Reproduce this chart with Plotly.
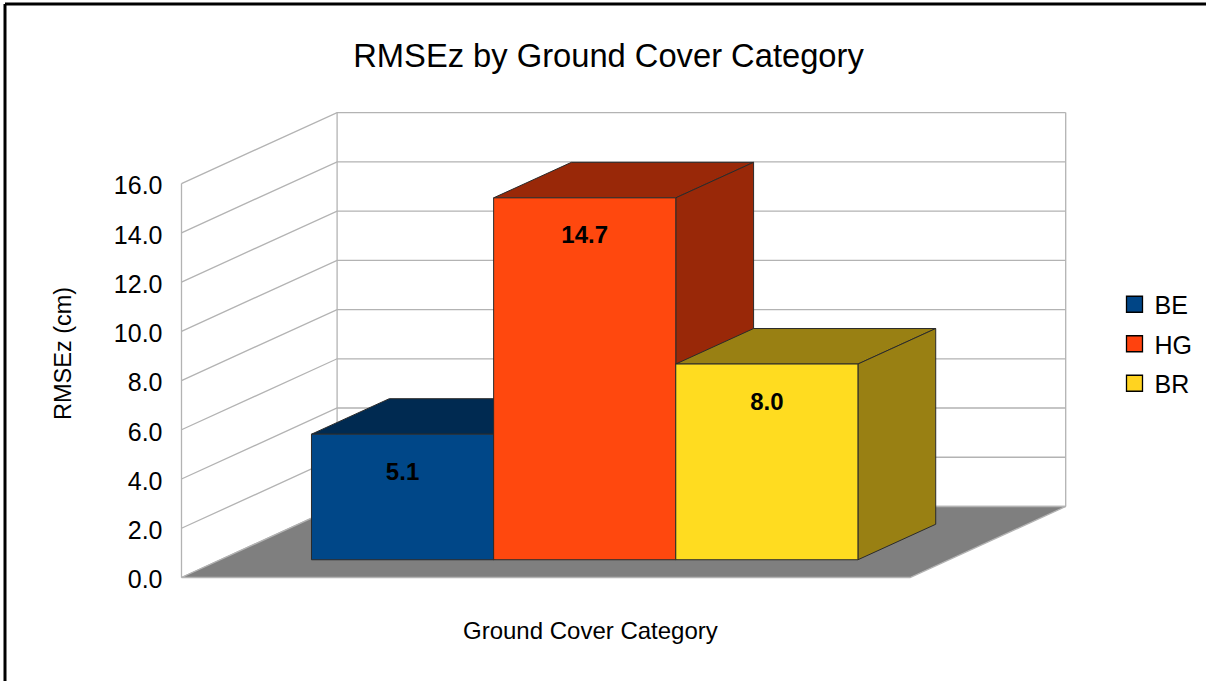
import plotly.graph_objects as go

# Data
categories = ["BE", "HG", "BR"]
values = [5.1, 14.7, 7.95]
data_labels = ["5.1", "14.7", "8.0"]
y_ticks = [0, 2, 4, 6, 8, 10, 12, 14, 16]
y_tick_labels = ["0.0", "2.0", "4.0", "6.0", "8.0", "10.0", "12.0", "14.0", "16.0"]

# Colours
front_colors = ["#004788", "#ff480e", "#ffdc20"]
legend_colors = ["#004586", "#ff420e", "#ffd320"]
dark_colors = ["#002a51", "#992808", "#998013"]
GRID = "#b3b3b3"
EDGE = "#2a2a2a"

# Canvas / projection
W, H = 1206, 681
X0_PX, Y0_PX = 181.5, 577.5      # pixel of the origin on the front plane
X_SCALE = 728.6                  # px for the whole category span
Y_SCALE = 24.62                  # px per RMSEz unit
DEPTH_DX = 155.6 / X_SCALE       # oblique shift for full depth (x units)
DEPTH_DY = 71.0 / Y_SCALE        # oblique shift for full depth (y units)
BAR_W = 0.25
BAR_START = 0.125
DEPTH_FRONT, DEPTH_BACK = 0.25, 0.75


def proj(x, v, d):
    return x + d * DEPTH_DX, v + d * DEPTH_DY


def poly(points):
    xs, ys = zip(*[proj(*p) for p in points])
    return list(xs) + [xs[0]], list(ys) + [ys[0]]


fig = go.Figure()


def add_line(xs, ys, color=GRID, width=1.3):
    fig.add_trace(go.Scatter(x=xs, y=ys, mode="lines", showlegend=False, hoverinfo="skip",
                             line=dict(color=color, width=width)))


def add_face(points, fill, line=EDGE, width=1):
    xs, ys = poly(points)
    fig.add_trace(go.Scatter(x=xs, y=ys, mode="lines", fill="toself", fillcolor=fill,
                             showlegend=False, hoverinfo="skip",
                             line=dict(color=line, width=width)))


# Walls and gridlines
vmax = y_ticks[-1]
for t in y_ticks:
    p = [proj(0, t, 0), proj(0, t, 1), proj(1, t, 1)]
    add_line([q[0] for q in p], [q[1] for q in p])
for x, d in [(0, 0), (0, 1), (1, 1)]:
    a, b = proj(x, 0, d), proj(x, vmax, d)
    add_line([a[0], b[0]], [a[1], b[1]])

# Floor
add_face([(0, 0, 0), (1, 0, 0), (1, 0, 1), (0, 0, 1)], "#7f7f7f", line=GRID, width=1.3)

# Bars, back to front in drawing order
for i, (name, v) in enumerate(zip(categories, values)):
    x1 = BAR_START + i * BAR_W
    x2 = x1 + BAR_W
    add_face([(x1, v, DEPTH_FRONT), (x2, v, DEPTH_FRONT), (x2, v, DEPTH_BACK), (x1, v, DEPTH_BACK)], dark_colors[i])
    add_face([(x2, 0, DEPTH_FRONT), (x2, 0, DEPTH_BACK), (x2, v, DEPTH_BACK), (x2, v, DEPTH_FRONT)], dark_colors[i])
    add_face([(x1, 0, DEPTH_FRONT), (x2, 0, DEPTH_FRONT), (x2, v, DEPTH_FRONT), (x1, v, DEPTH_FRONT)], front_colors[i])

# Data labels
LABEL_DROP = 39.5 / Y_SCALE
lx, ly = [], []
for i, v in enumerate(values):
    px_, py_ = proj(BAR_START + (i + 0.5) * BAR_W, v - LABEL_DROP, DEPTH_FRONT)
    lx.append(px_)
    ly.append(py_)
fig.add_trace(go.Scatter(x=lx, y=ly, mode="text", text=data_labels, textposition="middle center",
                         textfont=dict(family="Liberation Sans", size=24, color="black"),
                         texttemplate="<b>%{text}</b>", showlegend=False, hoverinfo="skip"))

# Legend entries
for i, name in enumerate(categories):
    fig.add_trace(go.Scatter(x=[None], y=[None], mode="markers", name=name, legendgroup=name,
                             marker=dict(symbol="square", size=16, color=legend_colors[i],
                                         line=dict(color="black", width=1.3))))

x_range = [(0 - X0_PX) / X_SCALE, (W - X0_PX) / X_SCALE]
y_range = [(Y0_PX - H) / Y_SCALE, Y0_PX / Y_SCALE]

FONT = "Liberation Sans"
fig.update_layout(
    width=W, height=H, autosize=False,
    margin=dict(l=0, r=0, t=0, b=0),
    paper_bgcolor="white", plot_bgcolor="white",
    font=dict(family=FONT, color="black", size=24),
    title=dict(text="RMSEz by Ground Cover Category", x=608.5 / W, xanchor="center",
               y=1 - 56 / H, yanchor="middle", font=dict(size=32.7, family=FONT)),
    xaxis=dict(range=x_range, visible=False, fixedrange=True),
    yaxis=dict(range=y_range, anchor="free", position=X0_PX / W, tickvals=y_ticks, ticktext=y_tick_labels,
               showgrid=False, zeroline=False, showline=False, ticks="", ticklabelstandoff=19,
               ticklabelshift=2, fixedrange=True, tickfont=dict(size=25, family=FONT)),
    legend=dict(x=1114.5 / W, xanchor="left", y=1 - 281.5 / H, yanchor="top", tracegroupgap=4,
                bgcolor="rgba(0,0,0,0)", font=dict(size=25, family=FONT)),
    annotations=[
        dict(text="Ground Cover Category", xref="paper", yref="paper", x=590 / W, y=1 - 630.5 / H,
             showarrow=False, xanchor="center", yanchor="middle", font=dict(size=24, family=FONT)),
        dict(text="RMSEz (cm)", xref="paper", yref="paper", x=63 / W, y=1 - 354 / H, textangle=-90,
             showarrow=False, xanchor="center", yanchor="middle", font=dict(size=23.5, family=FONT)),
    ],
    shapes=[
        dict(type="line", xref="paper", yref="paper", x0=5 / W, x1=5 / W, y0=0, y1=1 - 4 / H,
             line=dict(color="black", width=3)),
        dict(type="line", xref="paper", yref="paper", x0=5 / W, x1=1, y0=1 - 4 / H, y1=1 - 4 / H,
             line=dict(color="black", width=3)),
    ],
)

fig.write_html("out.html", config={"displayModeBar": False},
               post_script="document.body.style.margin='0';document.body.style.overflow='hidden';")
